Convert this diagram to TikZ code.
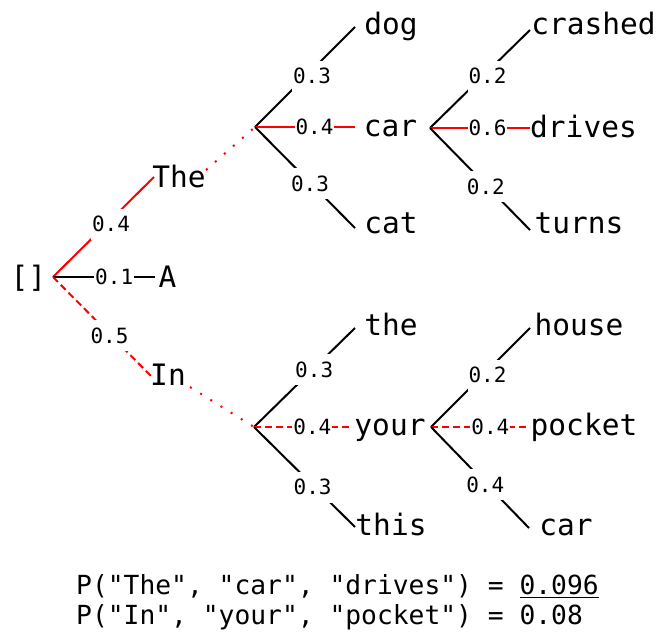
\documentclass[tikz,border=0pt]{standalone}
\usepackage{fontspec}
\newfontfamily\dvm{DejaVu Sans Mono}
\newcommand\ulnum[1]{\vtop{\hbox{#1}\kern2.5pt\hrule height 1.3pt}}
\begin{document}
\begin{tikzpicture}[x=1pt,y=-1pt,
  word/.style={font=\dvm\fontsize{29.5}{30}\selectfont, inner sep=0pt, anchor=base},
  rword/.style={font=\dvm\fontsize{29.5}{30}\selectfont, inner sep=0pt, anchor=base},
  lbl/.style={font=\dvm\fontsize{21}{21}\selectfont, text=black, fill=white, inner xsep=1pt, inner ysep=4pt, text height=19pt, text depth=4pt},
  btm/.style={font=\dvm\fontsize{26.3}{27}\selectfont, inner sep=0pt, anchor=base west},
  edge/.style={line width=2pt, black},
  redge/.style={line width=2pt, red},
  rdash/.style={line width=2pt, red, dash pattern=on 7pt off 4pt},
  rdot/.style={line width=2pt, red, dash pattern=on 2pt off 10pt}]
\useasboundingbox (0,0) rectangle (658,635);

% branch points
\coordinate (r) at (53,277);
\coordinate (b1) at (255,127);
\coordinate (b2) at (430,128);
\coordinate (b3) at (254,427);
\coordinate (b4) at (431,427);
% line ends
\coordinate (TheE) at (154,177);
\coordinate (AE) at (155,277);
\coordinate (InE) at (153,378);
\coordinate (TheD) at (206,170);
\coordinate (InD) at (190,387);
\coordinate (dogE) at (355,27);
\coordinate (car1E) at (355,127);
\coordinate (catE) at (355,228);
\coordinate (crE) at (530,30);
\coordinate (drE) at (530,128);
\coordinate (tuE) at (530,230);
\coordinate (theE) at (355,328);
\coordinate (yoE) at (353,427);
\coordinate (thisE) at (355,527);
\coordinate (hoE) at (530,328);
\coordinate (poE) at (530,427);
\coordinate (car2E) at (529,528);

% words
\node[rword] (root) at (28.5,287) {[]};
\node[rword] (The) at (179,187) {The};
\node[rword] (A) at (167.5,287) {A};
\node[rword] (In) at (168,385) {In};
\node[word] (dog) at (391,34) {dog};
\node[word] (car1) at (390.5,136) {car};
\node[word] (cat) at (391,233) {cat};
\node[word] (crashed) at (593.5,34) {crashed};
\node[word] (drives) at (583.5,137) {drives};
\node[word] (turns) at (579,233) {turns};
\node[word] (the) at (391,335) {the};
\node[word] (your) at (390,435) {your};
\node[word] (this) at (391,535) {this};
\node[word] (house) at (579,335) {house};
\node[word] (pocket) at (584,435) {pocket};
\node[word] (car2) at (566,535) {car};

% root edges
\draw[redge] (r) -- node[lbl, pos=.53, xshift=4.5]{0.4} (TheE);
\draw[edge] (r) -- node[lbl, pos=.6]{0.1} (AE);
\draw[rdash] (r) -- node[lbl, pos=.58, xshift=-1.5]{0.5} (InE);
\draw[rdot] (TheD) -- (b1);
\draw[rdot] (InD) -- (b3);

% upper tree
\draw[edge] (b1) -- node[lbl, pos=.51, xshift=6]{0.3} (dogE);
\draw[redge] (b1) -- node[lbl, pos=.595]{0.4} (car1E);
\draw[edge] (b1) -- node[lbl, pos=.564, xshift=-1.4]{0.3} (catE);
\draw[edge] (b2) -- node[lbl, pos=.53, xshift=4.5]{0.2} (crE);
\draw[redge] (b2) -- node[lbl, pos=.575]{0.6} (drE);
\draw[edge] (b2) -- node[lbl, pos=.574, xshift=-1.5]{0.2} (tuE);

% lower tree
\draw[edge] (b3) -- node[lbl, pos=.576, xshift=2]{0.3} (theE);
\draw[rdash] (b3) -- node[lbl, pos=.59]{0.4} (yoE);
\draw[edge] (b3) -- node[lbl, pos=.6, xshift=-2]{0.3} (thisE);
\draw[edge] (b4) -- node[lbl, pos=.525, xshift=4.5]{0.2} (hoE);
\draw[rdash] (b4) -- node[lbl, pos=.6]{0.4} (poE);
\draw[edge] (b4) -- node[lbl, pos=.574, xshift=-2]{0.4} (car2E);

% bottom text
\node[btm] (p1) at (76,594) {P("The", "car", "drives") = \ulnum{0.096}};
\node[btm] (p2) at (76,624) {P("In", "your", "pocket") = 0.08};
\end{tikzpicture}
\end{document}
